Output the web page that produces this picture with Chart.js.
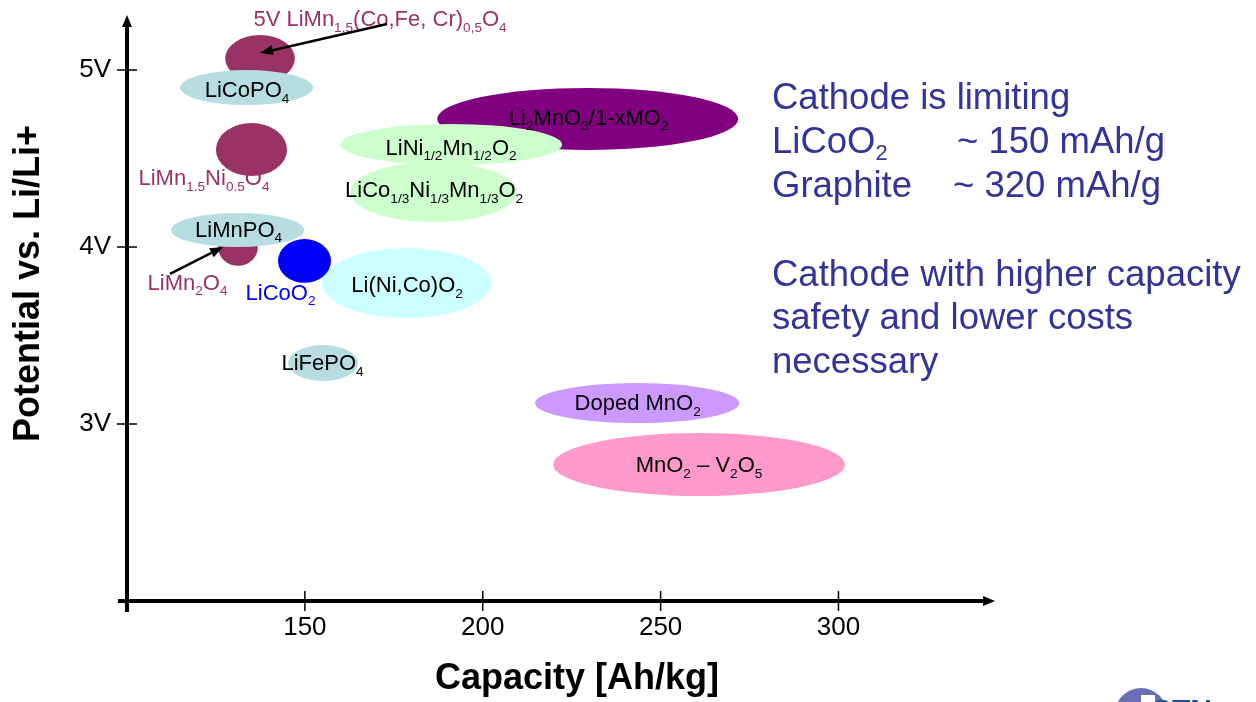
<!DOCTYPE html>
<html>
<head>
<meta charset="utf-8">
<script src="https://cdn.jsdelivr.net/npm/chart.js@4.4.0/dist/chart.umd.min.js"></script>
<style>
  html, body { margin: 0; padding: 0; background: #fff; }
  #wrap { width: 1256px; height: 702px; position: relative; }
</style>
</head>
<body>
<div id="wrap"><canvas id="cathodeChart" width="1256" height="702"></canvas></div>
<script>
// cathode materials, drawn in this order (later ones on top)
const materials = [
    '5V LiMn_{1,5}(Co,Fe, Cr)_{0,5}O_{4}',
    'LiCoPO_{4}',
    'LiMn_{1.5}Ni_{0.5}O_{4}',
    'Li_{2}MnO_{3}/1-xMO_{2}',
    'LiCo_{1/3}Ni_{1/3}Mn_{1/3}O_{2}',
    'LiNi_{1/2}Mn_{1/2}O_{2}',
    'LiMn_{2}O_{4}',
    'LiMnPO_{4}',
    'Li(Ni,Co)O_{2}',
    'LiCoO_{2}',
    'LiFePO_{4}',
    'Doped MnO_{2}',
    'MnO_{2} – V_{2}O_{5}'
];
// centre of each region: capacity [Ah/kg] and potential [V]
const capacity  = [137.4, 133.6, 135.0, 229.5, 186.2, 191.1, 131.2, 131.1, 178.6, 149.9, 155.1, 243.4, 260.8];
const potential = [5.064, 4.900, 4.550, 4.723, 4.310, 4.578, 4.000, 4.096, 3.796, 3.921, 3.344, 3.118, 2.771];
// half-width of each region along both axes
const capacitySpread  = [9.8, 18.7, 10.0, 42.3, 23.5, 31.2, 5.6, 18.7, 23.8, 7.45, 9.8, 28.7, 41.0];
const potentialSpread = [0.133, 0.099, 0.150, 0.175, 0.169, 0.116, 0.107, 0.096, 0.198, 0.124, 0.102, 0.113, 0.178];

const capacityTicks = [150, 200, 250, 300];
const potentialTicks = [3, 4, 5];

const fillColors = ['#993366', '#b7dde2', '#993366', '#800080', '#ccffcc', '#ccffcc', '#993366',
                    '#b7dde2', '#ccffff', '#0000ff', '#b7dde2', '#cc99ff', '#ff99cc'];
const labelColors = ['#993366', '#000', '#993366', '#000', '#000', '#000', '#993366',
                     '#000', '#000', '#0000ff', '#000', '#000', '#000'];
// label placement relative to region centre, in px
const labelOffsets = [
    {dx: 120, dy: -32.5}, {dx: 0.5, dy: 9.5}, {dx: -47.5, dy: 35.5}, {dx: 1, dy: 6},
    {dx: 0.5, dy: 5}, {dx: 0, dy: 10}, {dx: -50.5, dy: 43}, {dx: 1, dy: 7},
    {dx: 0.5, dy: 9}, {dx: -24, dy: 39}, {dx: -0.5, dy: 7}, {dx: 0.5, dy: 7}, {dx: 0, dy: 7.5}
];
// pointer arrows: [region index, from dx, from dy, to dx, to dy]
const arrows = [[0, 127, -34.5, 0, -5.5], [6, -68, 27, -15, 0]];

const sideText = [
    {t: 'Cathode is limiting', y: 109},
    {t: 'LiCoO_{2}', y: 153, tail: '~ 150 mAh/g', tx: 957},
    {t: 'Graphite', y: 197, tail: '~ 320 mAh/g', tx: 953},
    {t: 'Cathode with higher capacity', y: 286},
    {t: 'safety and lower costs', y: 329},
    {t: 'necessary', y: 373}
];

const FAMILY = "'Liberation Sans', Arial, Helvetica, sans-serif";

function richParts(str) {
    const parts = [];
    const re = /_\{([^}]*)\}|([^_]+)/g;
    let m;
    while ((m = re.exec(str))) {
        if (m[1] !== undefined) parts.push({t: m[1], sub: true});
        else parts.push({t: m[2], sub: false});
    }
    return parts;
}

function drawRich(ctx, str, x, y, size, color, align, opts = {}) {
    const subScale = opts.subScale || 0.62;
    const subShift = opts.subShift || 0.25;
    const weight = opts.weight || 'normal';
    const parts = richParts(str);
    const fontOf = sub => `${weight} ${sub ? size * subScale : size}px ${FAMILY}`;
    let w = 0;
    parts.forEach(p => {
        ctx.font = fontOf(p.sub);
        p.w = ctx.measureText(p.t).width;
        w += p.w;
    });
    let cx = align === 'center' ? x - w / 2 : x;
    ctx.fillStyle = color;
    ctx.textAlign = 'left';
    ctx.textBaseline = 'alphabetic';
    parts.forEach(p => {
        ctx.font = fontOf(p.sub);
        ctx.fillText(p.t, cx, y + (p.sub ? size * subShift : 0));
        cx += p.w;
    });
}

function arrow(ctx, x1, y1, x2, y2) {
    const a = Math.atan2(y2 - y1, x2 - x1);
    const len = 13, half = 5;
    const bx = x2 - len * Math.cos(a), by = y2 - len * Math.sin(a);
    ctx.strokeStyle = '#000';
    ctx.fillStyle = '#000';
    ctx.lineWidth = 2.5;
    ctx.beginPath();
    ctx.moveTo(x1, y1);
    ctx.lineTo(bx, by);
    ctx.stroke();
    ctx.beginPath();
    ctx.moveTo(x2, y2);
    ctx.lineTo(bx + half * Math.sin(a), by - half * Math.cos(a));
    ctx.lineTo(bx - half * Math.sin(a), by + half * Math.cos(a));
    ctx.closePath();
    ctx.fill();
}

const regionPlugin = {
    id: 'regions',
    afterDatasetsDraw(chart) {
        const {ctx, scales: {x, y}} = chart;
        ctx.save();
        const centres = materials.map((m, i) => {
            const cx = x.getPixelForValue(capacity[i]);
            const cy = y.getPixelForValue(potential[i]);
            const rx = Math.abs(x.getPixelForValue(capacity[i] + capacitySpread[i]) - cx);
            const ry = Math.abs(y.getPixelForValue(potential[i] + potentialSpread[i]) - cy);
            ctx.beginPath();
            ctx.ellipse(cx, cy, rx, ry, 0, 0, Math.PI * 2);
            ctx.fillStyle = fillColors[i];
            ctx.fill();
            return {cx, cy};
        });
        materials.forEach((m, i) => {
            const o = labelOffsets[i];
            drawRich(ctx, m, centres[i].cx + o.dx, centres[i].cy + o.dy, 22, labelColors[i], 'center');
        });
        arrows.forEach(([i, fx, fy, tx, ty]) => {
            const c = centres[i];
            arrow(ctx, c.cx + fx, c.cy + fy, c.cx + tx, c.cy + ty);
        });
        ctx.restore();
    }
};

const axesPlugin = {
    id: 'arrowAxes',
    afterDraw(chart) {
        const {ctx, chartArea: a, scales: {x, y}} = chart;
        ctx.save();
        ctx.strokeStyle = '#000';
        ctx.fillStyle = '#000';
        // axis lines
        ctx.lineWidth = 4;
        ctx.beginPath();
        ctx.moveTo(a.left, a.bottom + 11);
        ctx.lineTo(a.left, a.top + 10);
        ctx.moveTo(a.left - 9, a.bottom);
        ctx.lineTo(a.right - 10, a.bottom);
        ctx.stroke();
        ctx.beginPath();
        ctx.moveTo(a.left, a.top);
        ctx.lineTo(a.left - 5, a.top + 12);
        ctx.lineTo(a.left + 5, a.top + 12);
        ctx.closePath();
        ctx.fill();
        ctx.beginPath();
        ctx.moveTo(a.right, a.bottom);
        ctx.lineTo(a.right - 12, a.bottom - 5);
        ctx.lineTo(a.right - 12, a.bottom + 5);
        ctx.closePath();
        ctx.fill();
        // tick marks
        ctx.lineWidth = 1.5;
        ctx.beginPath();
        potentialTicks.forEach(v => {
            const py = y.getPixelForValue(v);
            ctx.moveTo(a.left - 10, py);
            ctx.lineTo(a.left + 10, py);
        });
        capacityTicks.forEach(v => {
            const px = x.getPixelForValue(v);
            ctx.moveTo(px, a.bottom - 10);
            ctx.lineTo(px, a.bottom + 10);
        });
        ctx.stroke();

        // axis titles
        ctx.font = `bold 36px ${FAMILY}`;
        ctx.textAlign = 'center';
        ctx.textBaseline = 'alphabetic';
        ctx.fillText('Capacity [Ah/kg]', 577, 689);
        ctx.save();
        ctx.translate(39, 283.5);
        ctx.rotate(-Math.PI / 2);
        ctx.fillText('Potential vs. Li/Li+', 0, 0);
        ctx.restore();

        // side notes
        sideText.forEach(l => {
            drawRich(ctx, l.t, 772, l.y, 36.5, '#333399', 'left', {subScale: 0.6, subShift: 0.2});
            if (l.tail) drawRich(ctx, l.tail, l.tx, l.y, 36.5, '#333399', 'left');
        });

        // logo fragment bottom right
        ctx.beginPath();
        ctx.arc(1141, 714, 26, 0, Math.PI * 2);
        ctx.fillStyle = '#6b6fb6';
        ctx.fill();
        ctx.fillStyle = '#fff';
        ctx.fillRect(1141, 695, 14, 10);
        ctx.fillStyle = '#1d4f9c';
        ctx.font = `bold 30px ${FAMILY}`;
        ctx.textAlign = 'left';
        ctx.fillText('STN', 1152, 720);
        ctx.restore();
    }
};

const tickFont = {family: FAMILY, size: 26};

new Chart(document.getElementById('cathodeChart').getContext('2d'), {
    type: 'scatter',
    data: {
        datasets: [{
            label: 'Cathode materials',
            data: capacity.map((c, i) => ({x: c, y: potential[i]})),
            pointRadius: 0,
            pointHoverRadius: 0
        }]
    },
    options: {
        responsive: false,
        animation: false,
        events: [],
        layout: {padding: {top: 15, right: 261, bottom: 0, left: 0}},
        plugins: {
            legend: {display: false},
            tooltip: {enabled: false},
            title: {display: false}
        },
        scales: {
            x: {
                type: 'linear',
                min: 100,
                max: 344,
                afterFit: s => { s.height = 101; s.paddingLeft = 0; s.paddingRight = 0; },
                afterBuildTicks: s => { s.ticks = capacityTicks.map(v => ({value: v})); },
                grid: {display: false, drawTicks: false},
                border: {display: false},
                ticks: {padding: 11, color: '#000', font: tickFont, maxRotation: 0, autoSkip: false}
            },
            y: {
                type: 'linear',
                min: 2,
                max: 5.31,
                afterFit: s => { s.width = 127; s.paddingTop = 0; s.paddingBottom = 0; },
                afterBuildTicks: s => { s.ticks = potentialTicks.map(v => ({value: v})); },
                grid: {display: false, drawTicks: false},
                border: {display: false},
                ticks: {padding: 16, color: '#000', font: tickFont, callback: v => v + 'V'}
            }
        }
    },
    plugins: [regionPlugin, axesPlugin]
});
</script>
</body>
</html>
